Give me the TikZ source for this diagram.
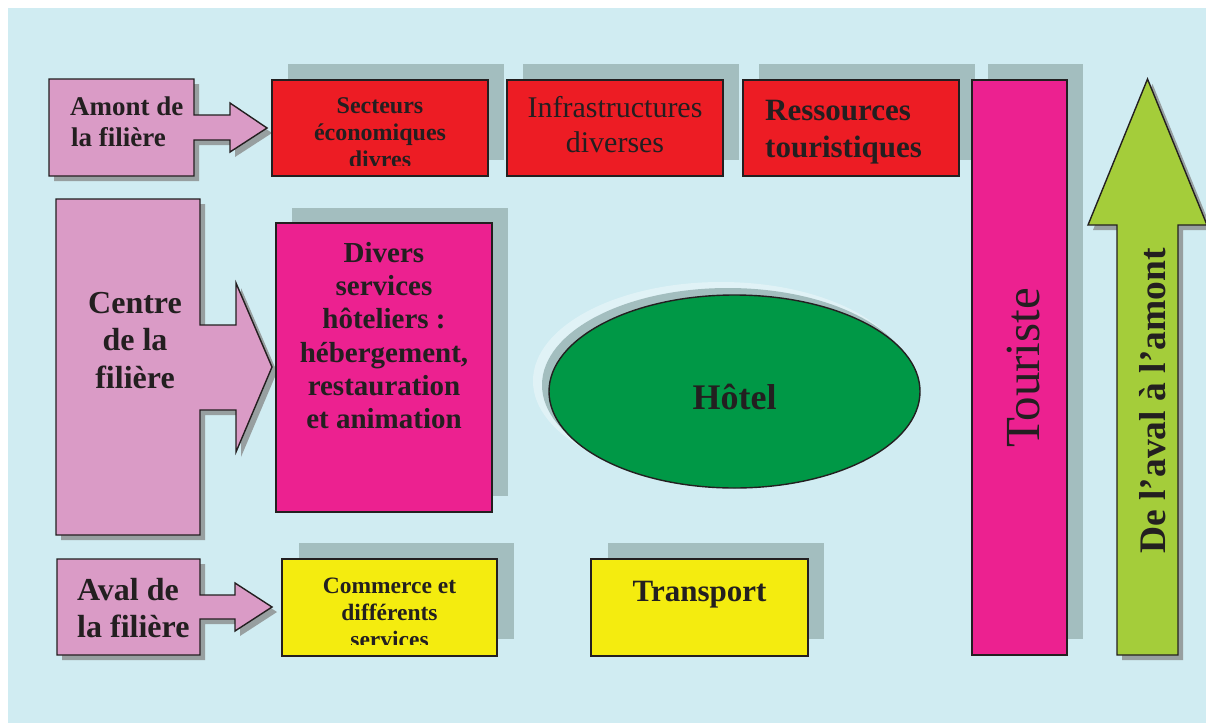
\documentclass[tikz,border=0pt]{standalone}
\usepackage{fontspec}
\setmainfont{Liberation Serif}
\usetikzlibrary{shapes.geometric}
\definecolor{bg}{HTML}{D0ECF2}
\definecolor{shadowc}{HTML}{A3BEBF}
\definecolor{dropsh}{HTML}{979FA0}
\definecolor{lpink}{HTML}{DA9BC6}
\definecolor{redc}{HTML}{ED1C24}
\definecolor{magc}{HTML}{EC2190}
\definecolor{greenc}{HTML}{009846}
\definecolor{yellc}{HTML}{F4EC0F}
\definecolor{limec}{HTML}{A4CD3A}
\definecolor{ink}{HTML}{231F20}
\begin{document}
\begin{tikzpicture}[x=1pt,y=-1pt,
  boxline/.style={draw=ink, line width=1.4pt},
  bigshadow/.style={fill=shadowc},
  smallshadow/.style={fill=dropsh},
  lbl/.style={inner sep=0pt, text=ink, anchor=base},
  lblw/.style={inner sep=0pt, text=ink, anchor=base west},
  fs/.style={font=\fontsize{#1}{#1}\selectfont},
  fsb/.style={font=\fontsize{#1}{#1}\selectfont\bfseries}]
\useasboundingbox (0,0) rectangle (1206,723);
\fill[bg] (8,8) rectangle (1206,723);

% ---- big offset shadows (up-right)
\fill[bigshadow] (288,64) rectangle (504,160);
\fill[bigshadow] (523,64) rectangle (739,160);
\fill[bigshadow] (759,64) rectangle (975,160);
\fill[bigshadow] (988,64) rectangle (1083,639);
\fill[bigshadow] (292,208) rectangle (508,496);
\fill[bigshadow] (299,543) rectangle (514,639);
\fill[bigshadow] (608,543) rectangle (824,639);

% ---- pink arrow shapes (shadow + shape)
\def\amontpath{(49,79) -- (194,79) -- (194,115) -- (230,115) -- (230,103) -- (267,128) -- (230,152) -- (230,140) -- (194,140) -- (194,176) -- (49,176) -- cycle}
\def\centrepath{(56,199) -- (200,199) -- (200,325) -- (236,325) -- (236,283) -- (272,367) -- (236,452) -- (236,410) -- (200,410) -- (200,535) -- (56,535) -- cycle}
\def\avalpath{(57,559) -- (200,559) -- (200,595) -- (235,595) -- (235,583) -- (272,607) -- (235,631) -- (235,619) -- (200,619) -- (200,655) -- (57,655) -- cycle}
\fill[smallshadow, shift={(5,5)}] \amontpath;
\fill[smallshadow, shift={(5,5)}] \centrepath;
\fill[smallshadow, shift={(5,5)}] \avalpath;
\path[boxline, fill=lpink] \amontpath;
\path[boxline, fill=lpink] \centrepath;
\path[boxline, fill=lpink] \avalpath;

% ---- green arrow
\def\greenpath{(1117,655) -- (1117,225) -- (1088,225) -- (1147.5,79) -- (1207,225) -- (1178,225) -- (1178,655) -- cycle}
\fill[smallshadow, shift={(5,5)}] \greenpath;
\path[boxline, fill=limec] \greenpath;

% ---- boxes
\path[boxline, fill=redc] (272,80) rectangle (488,176);
\path[boxline, fill=redc] (507,80) rectangle (723,176);
\path[boxline, fill=redc] (743,80) rectangle (959,176);
\path[boxline, fill=magc] (972,80) rectangle (1067,655);
\path[boxline, fill=magc] (276,223) rectangle (492,512);
\path[boxline, fill=yellc] (282,559) rectangle (497,656);
\path[boxline, fill=yellc] (591,559) rectangle (808,656);

% ---- Hotel ellipse
\fill[white, opacity=0.35] (721,381) ellipse [x radius=188, y radius=99];
\fill[fill=shadowc] (728,385) ellipse [x radius=186, y radius=97];
\node[ellipse, boxline, fill=greenc, minimum width=371pt, minimum height=193pt, inner sep=0pt] (hotel) at (734.5,391.5) {};
\node[lbl, fsb=36] (hoteltxt) at (734.5,409) {Hôtel};

% ---- texts
\node[lblw, fsb=27] (amont1) at (70,115) {Amont de};
\node[lblw, fsb=27] (amont2) at (71,146) {la filière};

\begin{scope}
\clip (272,80) rectangle (488,165);
\node[lbl, fsb=24] (sect1) at (380,113) {Secteurs};
\node[lbl, fsb=24] (sect2) at (380,140) {économiques};
\node[lbl, fsb=24] (sect3) at (380,167) {divres};
\end{scope}

\node[lbl, fs=30] (infra1) at (615,117) {Infrastructures};
\node[lbl, fs=30] (infra2) at (615,152) {diverses};

\node[lblw, fsb=31] (res1) at (765,120) {Ressources};
\node[lblw, fsb=31] (res2) at (765,157) {touristiques};

\node[lbl, fsb=32] (centre1) at (135,313) {Centre};
\node[lbl, fsb=32] (centre2) at (135,350) {de la};
\node[lbl, fsb=32] (centre3) at (135,388) {filière};

\node[lbl, fsb=29] (div1) at (384,262) {Divers};
\node[lbl, fsb=29] (div2) at (384,295) {services};
\node[lbl, fsb=29] (div3) at (384,328) {hôteliers :};
\node[lbl, fsb=29] (div4) at (384,362) {hébergement,};
\node[lbl, fsb=29] (div5) at (384,395) {restauration};
\node[lbl, fsb=29] (div6) at (384,428) {et animation};

\node[lblw, fsb=32] (aval1) at (77,600) {Aval de};
\node[lblw, fsb=32] (aval2) at (77,637) {la filière};

\begin{scope}
\clip (282,559) rectangle (497,644);
\node[lbl, fsb=23.5] (com1) at (389.5,593) {Commerce et};
\node[lbl, fsb=23.5] (com2) at (389.5,620) {différents};
\node[lbl, fsb=23.5] (com3) at (389.5,647) {services};
\end{scope}

\node[lbl, fsb=31] (transport) at (699.5,601) {Transport};

\node[lbl, fs=49, rotate=90] (touriste) at (1039,368) {Touriste};
\node[lbl, fsb=37.5, rotate=90] (aval2amont) at (1165,401) {De l’aval à l’amont};
\end{tikzpicture}
\end{document}
